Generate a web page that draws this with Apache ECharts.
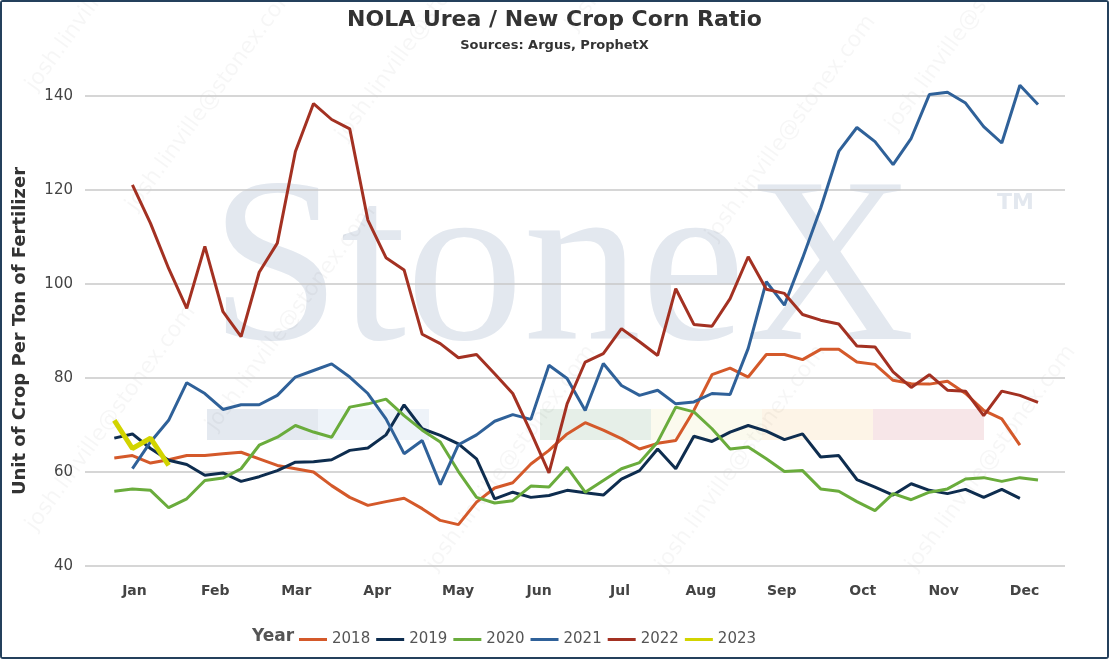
<!DOCTYPE html>
<html>
<head>
<meta charset="utf-8">
<script src="https://cdn.jsdelivr.net/npm/echarts@6/dist/echarts.min.js"></script>
<style>
html,body{margin:0;padding:0;background:#fff;}
#chart{width:1105px;height:655px;border:2px solid #24405c;border-radius:3px;}
</style>
</head>
<body>
<div id="chart"></div>
<script>
var months = ['Jan','Feb','Mar','Apr','May','Jun','Jul','Aug','Sep','Oct','Nov','Dec'];
var weeks = [];
for (var w = 1; w <= 52; w++) weeks.push('W' + w);

var y2018 = [63,63.5,61.9,62.6,63.5,63.5,63.9,64.2,62.8,61.4,60.7,60,57.1,54.6,52.9,53.7,54.4,52.2,49.7,48.8,53.6,56.6,57.7,61.7,64.6,68.1,70.5,68.9,67.1,64.9,66.1,66.7,73.1,80.7,82.1,80.2,85,85,83.9,86.1,86.1,83.4,82.9,79.5,78.8,78.7,79.3,76.7,73.1,71.3,65.7,null];
var y2019 = [67.2,68.1,65,62.5,61.6,59.3,59.8,58,59,60.3,62.1,62.2,62.6,64.6,65.1,67.9,74.3,69.2,67.8,66,62.8,54.3,55.7,54.6,55,56.1,55.6,55.1,58.5,60.3,64.9,60.7,67.6,66.5,68.5,69.9,68.7,66.9,68.1,63.2,63.5,58.4,56.8,55.1,57.5,56.1,55.4,56.3,54.6,56.3,54.4,null];
var y2020 = [55.9,56.4,56.1,52.4,54.3,58.2,58.7,60.7,65.7,67.4,69.9,68.5,67.4,73.8,74.5,75.5,72,68.9,66.4,60.1,54.6,53.4,53.9,57,56.8,61,55.7,58.2,60.7,62,66.4,73.8,72.8,69.2,64.9,65.3,62.8,60.1,60.3,56.4,55.9,53.7,51.8,55.4,54.1,55.7,56.4,58.5,58.8,58,58.8,58.3];
var y2021 = [null,60.7,66.4,71,79,76.7,73.3,74.3,74.3,76.3,80.2,81.6,83,80.2,76.7,71.3,63.9,66.7,57.3,65.8,67.9,70.8,72.2,71.2,82.7,79.9,73.1,83.1,78.4,76.3,77.4,74.5,74.9,76.7,76.5,86.3,100.5,95.5,105.5,116.1,128.2,133.3,130.3,125.4,131,140.3,140.8,138.5,133.5,130,142.3,138.2];
var y2022 = [null,121.1,112.9,103.3,94.8,108,94.1,88.8,102.5,108.7,128.2,138.4,135,133,113.6,105.6,103,89.3,87.3,84.3,85,80.9,76.7,68.5,59.8,74.5,83.4,85.2,90.5,87.7,84.8,99,91.4,91,96.9,105.8,98.9,98,93.5,92.3,91.5,86.8,86.6,81.3,78,80.7,77.4,77.2,72,77.2,76.3,74.8];
var y2023 = [71,65,67.2,61.4];

var seriesNames = ['2018','2019','2020','2021','2022','2023'];
var seriesData = [y2018, y2019, y2020, y2021, y2022, y2023];
var colors = ['#d4592a','#0e2d4f','#6aac3c','#2f6199','#a33122','#d2d400'];

var chart = echarts.init(document.getElementById('chart'));

var series = seriesData.map(function(d, i){
    return {
        name: seriesNames[i],
        type: 'line',
        xAxisIndex: 2,
        yAxisIndex: 2,
        data: d,
        symbol: 'none',
        clip: false,
        lineStyle: {color: colors[i], width: i === 5 ? 5 : 3},
        itemStyle: {color: colors[i]},
        z: i === 5 ? 10 : 5
    };
});

// watermark bands
var bandColors = ['#e4e9f0','#eef3f9','#ffffff','#e6efe8','#fbfaee','#fdf4e7','#f7e6e8'];
var graphics = [
    {type:'text', left:208, top:158, z:-10, style:{text:'StoneX', font:'235px "Liberation Serif"', fill:'#e3e8ef'}},
    {type:'text', left:995, top:190, z:-10, style:{text:'TM', font:'bold 22px "DejaVu Sans"', fill:'#e3e8ef'}},
    {type:'text', left:250, top:626, style:{text:'Year', font:'bold 17px "DejaVu Sans"', fill:'#555'}}
];
bandColors.forEach(function(c, i){
    graphics.push({type:'rect', z:-10, shape:{x:205 + i * 111, y:407, width:111, height:31}, style:{fill:c}});
});
[[120,200],[330,130],[560,20],[880,120],[20,520],[200,420],[420,560],[650,560],[900,560],[700,230],[20,80]].forEach(function(p){
    graphics.push({type:'text', x:p[0], y:p[1], rotation:Math.PI * 0.3, z:-9,
        style:{text:'josh.linville@stonex.com', font:'22px "DejaVu Sans"', fill:'rgba(0,0,0,0.035)'}});
});

chart.setOption({
    backgroundColor: '#fff',
    animation: false,
    title: {
        text: 'NOLA Urea / New Crop Corn Ratio',
        subtext: 'Sources: Argus, ProphetX',
        left: 'center',
        top: 2,
        itemGap: 8,
        textStyle: {fontFamily:'DejaVu Sans', fontSize:22, fontWeight:'bold', color:'#333'},
        subtextStyle: {fontFamily:'DejaVu Sans', fontSize:13, fontWeight:'bold', color:'#333'}
    },
    graphic: graphics,
    legend: {
        data: seriesNames,
        left: 292,
        top: 625,
        icon: 'rect',
        itemWidth: 28,
        itemHeight: 3,
        itemGap: 6,
        textStyle: {fontFamily:'DejaVu Sans', fontSize:15, color:'#555'}
    },
    grid: [
        {left:83, right:42, top:94, height:470},
        {left:92, right:42, top:94, height:470},
        {left:112.3, right:69, top:94, height:470}
    ],
    xAxis: [
        {type:'category', gridIndex:0, data:months, show:false},
        {type:'category', gridIndex:1, data:months, boundaryGap:true,
            axisLine:{show:false}, axisTick:{show:false},
            axisLabel:{margin:18, fontFamily:'DejaVu Sans', fontSize:14, fontWeight:'bold', color:'#444'}},
        {type:'category', gridIndex:2, data:weeks, boundaryGap:false, show:false}
    ],
    yAxis: [
        {type:'value', gridIndex:0, min:40, max:140, interval:20,
            name:'Unit of Crop Per Ton of Fertilizer', nameLocation:'middle', nameGap:56,
            nameTextStyle:{fontFamily:'DejaVu Sans', fontSize:18, fontWeight:'bold', color:'#333'},
            axisLine:{show:false}, axisTick:{show:false},
            axisLabel:{margin:12, fontFamily:'DejaVu Sans', fontSize:15, color:'#444'},
            splitLine:{lineStyle:{color:'#c8c8c8', width:1.5}}},
        {type:'value', gridIndex:1, min:40, max:140, show:false, splitLine:{show:false}},
        {type:'value', gridIndex:2, min:40, max:140, show:false, splitLine:{show:false}}
    ],
    series: series
});
</script>
</body>
</html>
